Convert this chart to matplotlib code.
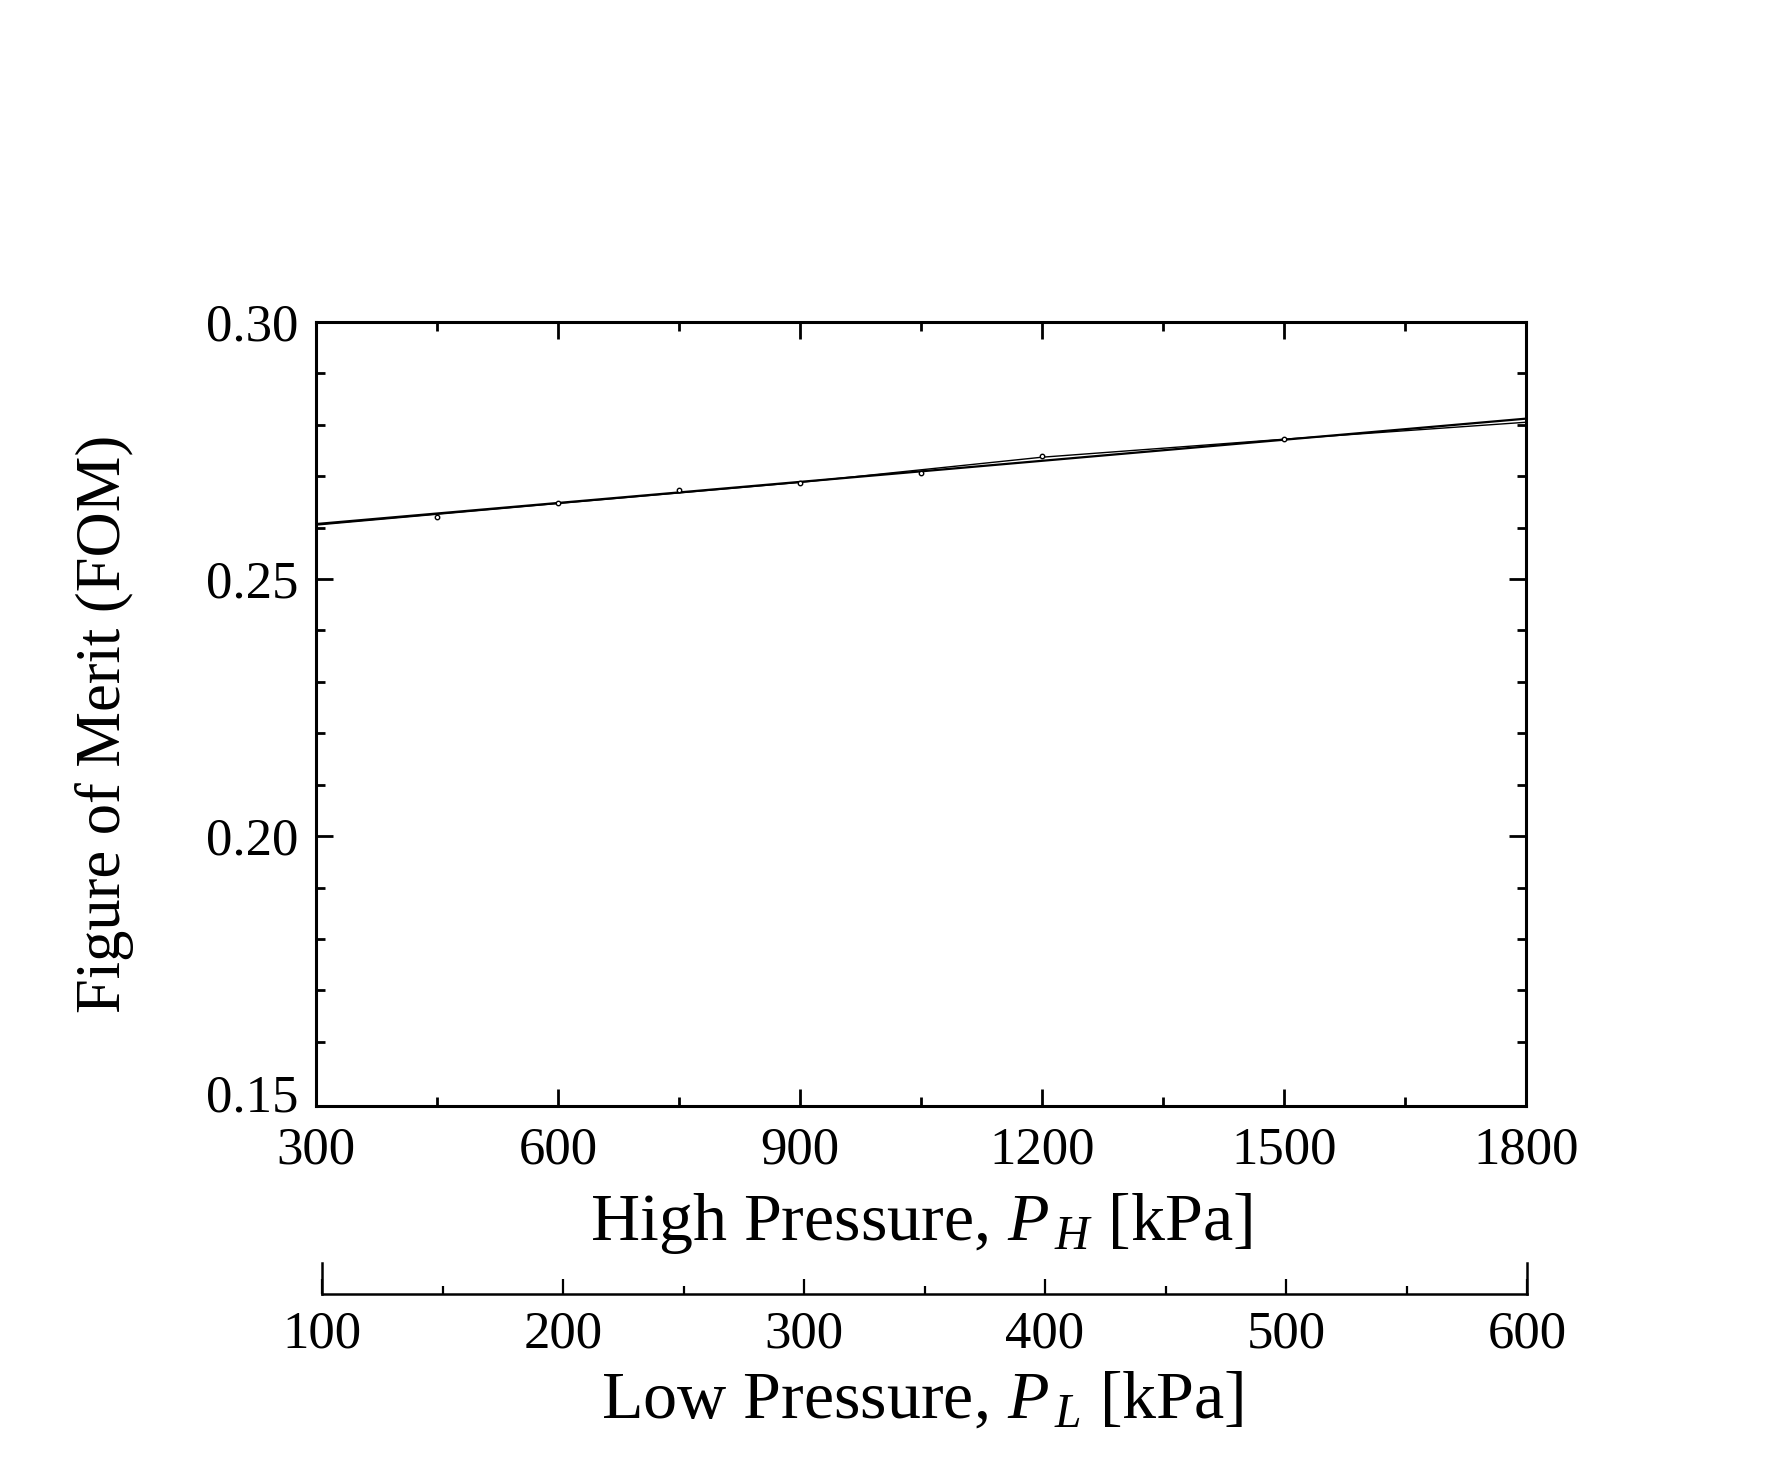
import matplotlib
matplotlib.use('Agg')
import matplotlib.pyplot as plt
from matplotlib.ticker import MultipleLocator, FixedLocator

plt.rcParams['font.family'] = ['Liberation Serif', 'DejaVu Serif']
plt.rcParams['mathtext.fontset'] = 'custom'
plt.rcParams['mathtext.rm'] = 'Liberation Serif'
plt.rcParams['mathtext.it'] = 'Liberation Serif:italic'

# ---- data ----
ph_fit = [300, 1800]
fom_fit = [0.2607, 0.2812]
ph_curve = [300, 600, 900, 1200, 1500, 1800]
fom_curve = [0.2605, 0.2647, 0.2688, 0.2737, 0.2772, 0.2805]
ph_pts = [450, 600, 750, 900, 1050, 1200, 1500]
fom_pts = [0.2620, 0.2647, 0.2674, 0.2686, 0.2706, 0.2739, 0.2773]

ph_ticks = [300, 600, 900, 1200, 1500, 1800]
pl_ticks = [100, 200, 300, 400, 500, 600]
fom_ticks = [0.15, 0.20, 0.25, 0.30]
fom_labels = ['0.15', '0.20', '0.25', '0.30']

W, H = 1772, 1472
fig = plt.figure(figsize=(W / 100, H / 100), dpi=100)
ax = fig.add_axes([316 / W, 366 / H, 1210 / W, 784 / H])

ax.plot(ph_fit, fom_fit, color='black', lw=1.6, zorder=3)
ax.plot(ph_curve, fom_curve, color='black', lw=1.0, zorder=3)
ax.plot(ph_pts, fom_pts, ls='none', marker='o', ms=3.2, mfc='white',
        mec='black', mew=1.0, zorder=4)

ax.set_xlim(300, 1800)
ax.set_ylim(0.1475, 0.30)
ax.xaxis.set_major_locator(FixedLocator(ph_ticks))
ax.xaxis.set_minor_locator(MultipleLocator(150))
ax.yaxis.set_major_locator(FixedLocator(fom_ticks))
ax.set_yticklabels(fom_labels)
ax.yaxis.set_minor_locator(MultipleLocator(0.01))

for s in ax.spines.values():
    s.set_linewidth(2.2)
ax.tick_params(which='both', direction='in', top=True, right=True,
               width=2.0, labelsize=38)
ax.tick_params(axis='x', which='both', pad=15)
ax.tick_params(axis='y', which='both', pad=13)
ax.tick_params(which='major', length=12)
ax.tick_params(which='minor', length=6.5)
# no tick mark drawn at the 0.15 label in the original
for t in ax.yaxis.get_major_ticks():
    if abs(t.get_loc() - 0.15) < 1e-9:
        t.tick1line.set_visible(False)
        t.tick2line.set_visible(False)

ax.set_ylabel('Figure of Merit (FOM)', fontsize=45)
ax.yaxis.set_label_coords(-0.150, 0.487)

fig.text(921 / W, 1 - 1240 / H, r'High Pressure, $P_{\,H}$ [kPa]',
         fontsize=49, ha='center', va='baseline')

# ---- secondary (low pressure) axis ----
ax2 = fig.add_axes([322 / W, 178 / H, 1205 / W, 31 / H])
ax2.patch.set_alpha(0)
ax2.set_xlim(100, 600)
ax2.set_ylim(0, 1)
ax2.xaxis.set_major_locator(FixedLocator(pl_ticks))
ax2.xaxis.set_minor_locator(MultipleLocator(50))
ax2.set_yticks([])
ax2.spines['top'].set_visible(False)
for k in ['bottom', 'left', 'right']:
    ax2.spines[k].set_linewidth(1.8)
ax2.tick_params(axis='x', which='both', direction='in', width=1.6,
                labelsize=38, pad=12)
ax2.tick_params(axis='x', which='major', length=11)
ax2.tick_params(axis='x', which='minor', length=5.5)

fig.text(922 / W, 1 - 1418 / H, r'Low Pressure, $P_{\,L}$ [kPa]',
         fontsize=49, ha='center', va='baseline')

fig.savefig('out.png', dpi=100, facecolor='white')
